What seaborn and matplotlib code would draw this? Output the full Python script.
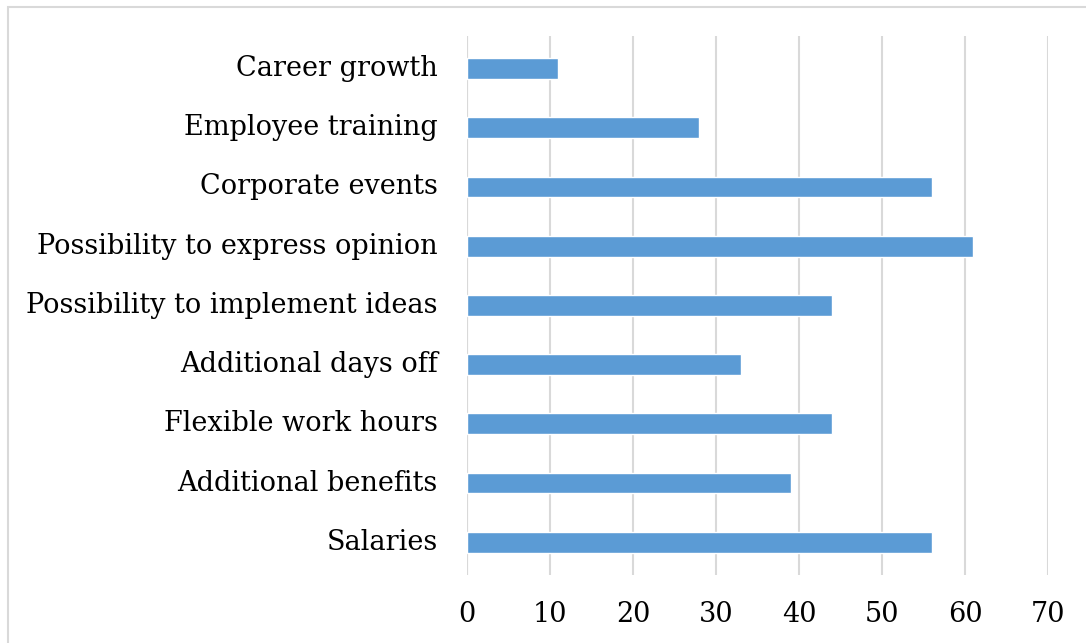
import matplotlib
matplotlib.use("Agg")
import matplotlib.pyplot as plt
import matplotlib.transforms as mtransforms
import seaborn as sns
import pandas as pd
from matplotlib.patches import Rectangle

categories = ["Career growth", "Employee training", "Corporate events",
              "Possibility to express opinion", "Possibility to implement ideas",
              "Additional days off", "Flexible work hours", "Additional benefits",
              "Salaries"]
values = [11, 28, 56, 61, 44, 33, 44, 39, 56]
xticks = [0, 10, 20, 30, 40, 50, 60, 70]

sns.set_theme(style="white")
plt.rcParams['font.family'] = ['DejaVu Serif']

df = pd.DataFrame({"cat": categories, "val": values})

fig = plt.figure(figsize=(10.86, 6.43), dpi=100)
ax = fig.add_axes([0.430, 0.106, 0.535, 0.838])
sns.barplot(data=df, x="val", y="cat", order=categories, color="#5b9bd5",
            width=0.35, saturation=1, ax=ax, zorder=3)

ax.set_xlim(0, 70)
ax.set_ylim(len(categories) - 0.45, -0.55)
ax.set_xticks(xticks)
ax.set_xticklabels([str(t) for t in xticks])
ax.xaxis.grid(True, color="#d9d9d9", linewidth=1.5, zorder=0)
ax.yaxis.grid(False)
for s in ax.spines.values():
    s.set_visible(False)
ax.axvline(0, color="#d9d9d9", linewidth=1.5, zorder=1)
ax.tick_params(axis="x", length=0, pad=19, labelsize=19.5, labelcolor="black")
ax.tick_params(axis="y", length=0, pad=21, labelsize=19.5, labelcolor="black")
ax.set_xlabel("")
ax.set_ylabel("")

offset = mtransforms.ScaledTranslation(0, 3 / 100, fig.dpi_scale_trans)
for lbl in ax.get_yticklabels():
    lbl.set_transform(lbl.get_transform() + offset)

fig.patches.append(Rectangle((8/1086, -0.1), 1.2, (643-7)/643 + 0.1,
                             transform=fig.transFigure, fill=False,
                             edgecolor="#d9d9d9", linewidth=1.5))

fig.savefig("out.png", dpi=100)
